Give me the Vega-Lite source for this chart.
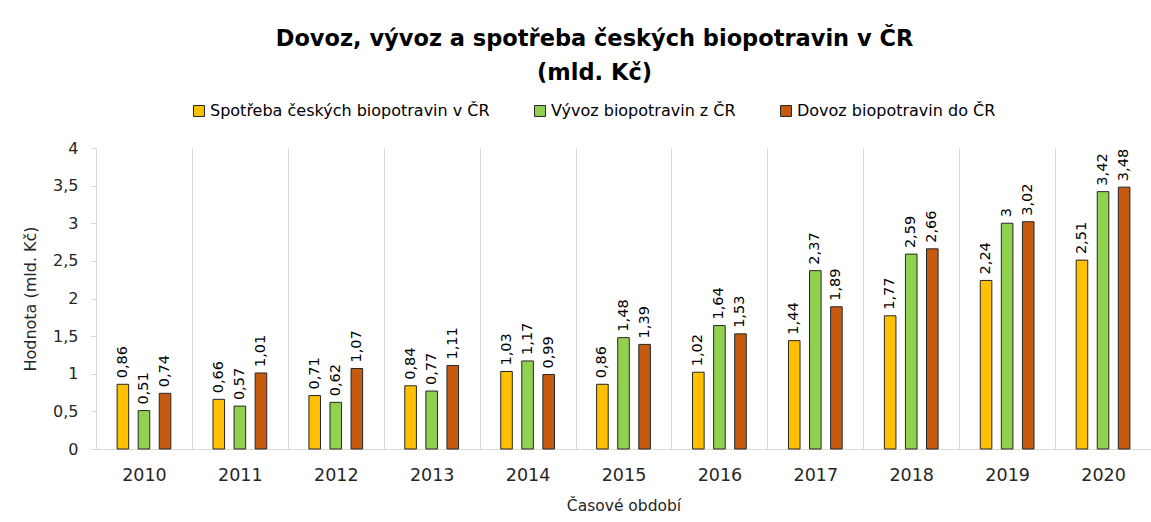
{
  "$schema": "https://vega.github.io/schema/vega-lite/v6.json",
  "autosize": "none",
  "width": 1055,
  "height": 301,
  "padding": {"left": 96, "top": 148, "right": 0, "bottom": 73},
  "background": "white",
  "config": {
    "locale": {"number": {"decimal": ",", "thousands": " ", "grouping": [3], "currency": ["", " Kč"]}},
    "view": {"stroke": null},
    "font": "DejaVu Sans"
  },
  "title": {
    "text": ["Dovoz, vývoz a spotřeba českých biopotravin v ČR", "(mld. Kč)"],
    "font": "DejaVu Sans",
    "fontSize": 22.5,
    "fontWeight": "bold",
    "color": "#000000",
    "anchor": "middle",
    "lineHeight": 34,
    "offset": 19,
    "dx": -29
  },
  "data": {
    "values": [
      {"rok": "2010", "rada": "Spotřeba českých biopotravin v ČR", "hodnota": 0.86},
      {"rok": "2010", "rada": "Vývoz biopotravin z ČR", "hodnota": 0.51},
      {"rok": "2010", "rada": "Dovoz biopotravin do ČR", "hodnota": 0.74},
      {"rok": "2011", "rada": "Spotřeba českých biopotravin v ČR", "hodnota": 0.66},
      {"rok": "2011", "rada": "Vývoz biopotravin z ČR", "hodnota": 0.57},
      {"rok": "2011", "rada": "Dovoz biopotravin do ČR", "hodnota": 1.01},
      {"rok": "2012", "rada": "Spotřeba českých biopotravin v ČR", "hodnota": 0.71},
      {"rok": "2012", "rada": "Vývoz biopotravin z ČR", "hodnota": 0.62},
      {"rok": "2012", "rada": "Dovoz biopotravin do ČR", "hodnota": 1.07},
      {"rok": "2013", "rada": "Spotřeba českých biopotravin v ČR", "hodnota": 0.84},
      {"rok": "2013", "rada": "Vývoz biopotravin z ČR", "hodnota": 0.77},
      {"rok": "2013", "rada": "Dovoz biopotravin do ČR", "hodnota": 1.11},
      {"rok": "2014", "rada": "Spotřeba českých biopotravin v ČR", "hodnota": 1.03},
      {"rok": "2014", "rada": "Vývoz biopotravin z ČR", "hodnota": 1.17},
      {"rok": "2014", "rada": "Dovoz biopotravin do ČR", "hodnota": 0.99},
      {"rok": "2015", "rada": "Spotřeba českých biopotravin v ČR", "hodnota": 0.86},
      {"rok": "2015", "rada": "Vývoz biopotravin z ČR", "hodnota": 1.48},
      {"rok": "2015", "rada": "Dovoz biopotravin do ČR", "hodnota": 1.39},
      {"rok": "2016", "rada": "Spotřeba českých biopotravin v ČR", "hodnota": 1.02},
      {"rok": "2016", "rada": "Vývoz biopotravin z ČR", "hodnota": 1.64},
      {"rok": "2016", "rada": "Dovoz biopotravin do ČR", "hodnota": 1.53},
      {"rok": "2017", "rada": "Spotřeba českých biopotravin v ČR", "hodnota": 1.44},
      {"rok": "2017", "rada": "Vývoz biopotravin z ČR", "hodnota": 2.37},
      {"rok": "2017", "rada": "Dovoz biopotravin do ČR", "hodnota": 1.89},
      {"rok": "2018", "rada": "Spotřeba českých biopotravin v ČR", "hodnota": 1.77},
      {"rok": "2018", "rada": "Vývoz biopotravin z ČR", "hodnota": 2.59},
      {"rok": "2018", "rada": "Dovoz biopotravin do ČR", "hodnota": 2.66},
      {"rok": "2019", "rada": "Spotřeba českých biopotravin v ČR", "hodnota": 2.24},
      {"rok": "2019", "rada": "Vývoz biopotravin z ČR", "hodnota": 3.0},
      {"rok": "2019", "rada": "Dovoz biopotravin do ČR", "hodnota": 3.02},
      {"rok": "2020", "rada": "Spotřeba českých biopotravin v ČR", "hodnota": 2.51},
      {"rok": "2020", "rada": "Vývoz biopotravin z ČR", "hodnota": 3.42},
      {"rok": "2020", "rada": "Dovoz biopotravin do ČR", "hodnota": 3.48}
    ]
  },
  "encoding": {
    "x": {
      "field": "rok",
      "type": "nominal",
      "sort": null,
      "scale": {"paddingInner": 0, "paddingOuter": 0},
      "axis": {
        "title": "Časové období",
        "titleFont": "DejaVu Sans",
        "titleFontSize": 15.5,
        "titleFontWeight": "normal",
        "titleColor": "#262626",
        "titlePadding": 15,
        "labelAngle": 0,
        "labelFont": "DejaVu Sans",
        "labelFontSize": 17.5,
        "labelColor": "#262626",
        "labelPadding": 17,
        "ticks": false,
        "grid": true,
        "tickBand": "extent",
        "gridColor": "#d9d9d9",
        "gridWidth": 1,
        "domainColor": "#d9d9d9",
        "domainWidth": 1
      }
    },
    "xOffset": {
      "field": "rada",
      "type": "nominal",
      "sort": ["Spotřeba českých biopotravin v ČR", "Vývoz biopotravin z ČR", "Dovoz biopotravin do ČR"],
      "scale": {"paddingInner": 0.45, "paddingOuter": 1.125}
    },
    "y": {
      "field": "hodnota",
      "type": "quantitative",
      "scale": {"domain": [0, 4], "nice": false},
      "axis": {
        "title": "Hodnota (mld. Kč)",
        "titleFont": "DejaVu Sans",
        "titleFontSize": 16,
        "titleFontWeight": "normal",
        "titleColor": "#262626",
        "titlePadding": 14,
        "values": [0, 0.5, 1, 1.5, 2, 2.5, 3, 3.5, 4],
        "format": ".1~f",
        "labelFont": "DejaVu Sans",
        "labelFontSize": 16,
        "labelColor": "#262626",
        "labelPadding": 12,
        "tickSize": 6,
        "tickColor": "#d9d9d9",
        "grid": false,
        "domainColor": "#d9d9d9"
      }
    }
  },
  "layer": [
    {
      "mark": {"type": "bar", "stroke": "#262626", "strokeWidth": 1},
      "encoding": {
        "color": {
          "field": "rada",
          "type": "nominal",
          "scale": {
            "domain": ["Spotřeba českých biopotravin v ČR", "Vývoz biopotravin z ČR", "Dovoz biopotravin do ČR"],
            "range": ["#FFC000", "#92D050", "#C55A11"]
          },
          "legend": {
            "title": null,
            "orient": "none",
            "direction": "horizontal",
            "legendX": 95,
            "legendY": -45,
            "symbolType": "square",
            "symbolSize": 120,
            "symbolStrokeColor": "#262626",
            "symbolStrokeWidth": 1,
            "symbolOpacity": 1,
            "labelFont": "DejaVu Sans",
            "labelFontSize": 16,
            "labelColor": "#000000",
            "labelOffset": 3,
            "columnPadding": 42,
            "labelLimit": 400
          }
        }
      }
    },
    {
      "mark": {
        "type": "text",
        "angle": 270,
        "align": "left",
        "baseline": "middle",
        "dx": 6,
        "font": "DejaVu Sans",
        "fontSize": 14.5,
        "color": "#000000"
      },
      "encoding": {
        "text": {"field": "hodnota", "type": "quantitative", "format": ".2~f"}
      }
    }
  ]
}
